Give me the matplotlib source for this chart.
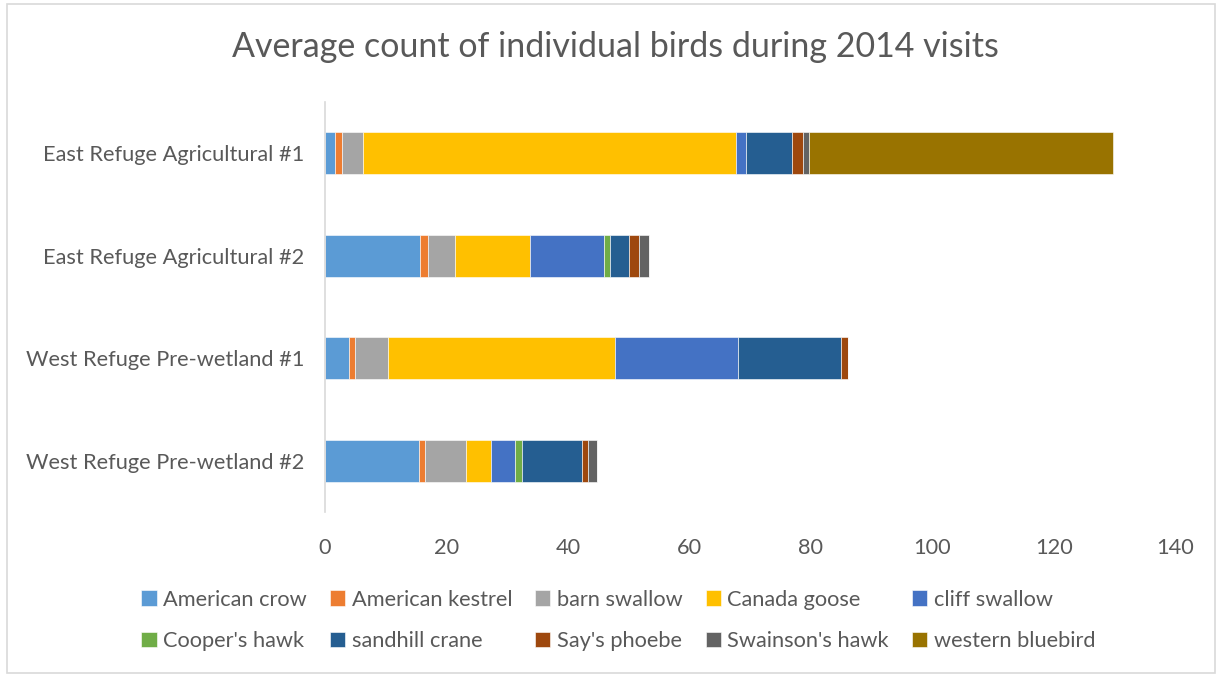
import numpy as np
import matplotlib.pyplot as plt
from matplotlib.patches import Rectangle

plt.rcParams['font.family'] = ['Lato', 'DejaVu Sans']

# -------------------- data --------------------
sites = ["East Refuge Agricultural #1", "East Refuge Agricultural #2",
         "West Refuge Pre-wetland #1", "West Refuge Pre-wetland #2"]
species = ["American crow", "American kestrel", "barn swallow", "Canada goose",
           "cliff swallow", "Cooper's hawk", "sandhill crane", "Say's phoebe",
           "Swainson's hawk", "western bluebird"]

american_crow = [1.6, 15.65, 3.95, 15.5]
american_kestrel = [1.2, 1.3, 1.0, 1.0]
barn_swallow = [3.4, 4.45, 5.4, 6.8]
canada_goose = [61.5, 12.4, 37.5, 4.0]
cliff_swallow = [1.6, 12.2, 20.1, 4.0]
coopers_hawk = [0, 1.0, 0, 1.1]
sandhill_crane = [7.6, 3.1, 17.1, 9.9]
says_phoebe = [1.8, 1.6, 1.1, 1.0]
swainsons_hawk = [1.0, 1.6, 0, 1.5]
western_bluebird = [50.1, 0, 0, 0]

series = [american_crow, american_kestrel, barn_swallow, canada_goose,
          cliff_swallow, coopers_hawk, sandhill_crane, says_phoebe,
          swainsons_hawk, western_bluebird]
colors = ['#5B9BD5', '#ED7D31', '#A5A5A5', '#FFC000', '#4472C4',
          '#70AD47', '#255E91', '#9E480E', '#636363', '#997300']

# -------------------- plot --------------------
fig = plt.figure(figsize=(12.17, 6.76), dpi=100)
ax = fig.add_axes([0.267, 0.2426, 0.6985, 0.6065])

y = np.arange(len(sites))
left = np.zeros(len(sites))
for name, vals, c in zip(species, series, colors):
    vals = np.array(vals, dtype=float)
    ax.barh(y, vals, left=left, height=0.41, color=c, label=name,
            edgecolor='white', linewidth=0.4)
    left += vals

ax.set_ylim(len(sites) - 0.5, -0.5)
ax.set_xlim(0, 140)
ax.set_xticks(np.arange(0, 141, 20))
ax.set_yticks(y)
ax.set_yticklabels(sites)
ax.tick_params(length=0, labelsize=15.7, colors='#595959')
ax.tick_params(axis='x', pad=19)
ax.tick_params(axis='y', pad=15)
for s in ['top', 'right', 'bottom']:
    ax.spines[s].set_visible(False)
ax.spines['left'].set_color('#D9D9D9')
ax.spines['left'].set_linewidth(1.2)

fig.text(0.506, 0.93, "Average count of individual birds during 2014 visits",
         ha='center', va='center', fontsize=24.5, color='#595959')

# legend filled row by row like Excel
handles, labels = ax.get_legend_handles_labels()
order = [0, 5, 1, 6, 2, 7, 3, 8, 4, 9]
fig.legend([handles[i] for i in order], [labels[i] for i in order],
           loc='center', bbox_to_anchor=(0.508, 0.082),
           ncol=5, frameon=False, fontsize=15.7, labelcolor='#595959',
           handlelength=0.7, handleheight=0.7, handletextpad=0.3,
           columnspacing=1.05, labelspacing=1.0)

fig.add_artist(Rectangle((0.006, 0.004), 0.992, 0.99, transform=fig.transFigure,
                         fill=False, edgecolor='#D9D9D9', linewidth=1.2))

plt.savefig('out.png', dpi=100)
